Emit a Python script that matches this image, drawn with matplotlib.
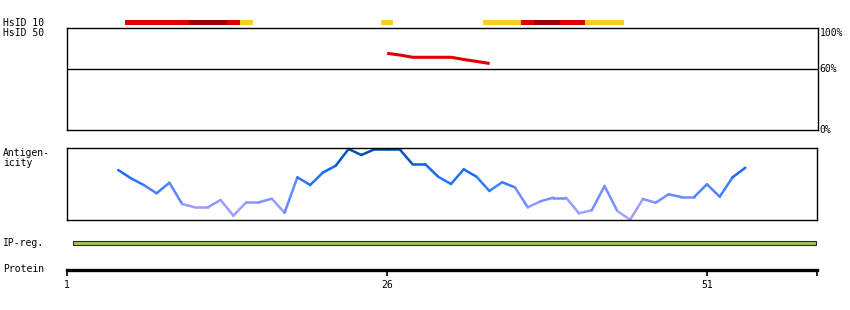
"""Protein feature overview: HsID tracks, antigenicity profile, IP region."""
import matplotlib
matplotlib.use("Agg")
import matplotlib.pyplot as plt
from matplotlib.collections import LineCollection
from matplotlib.colors import LinearSegmentedColormap
from matplotlib.patches import Rectangle
import numpy as np

W, H = 850, 310
X_MIN, X_MAX = 1, 59.6          # residue range covered by the panels

# ── HsID 10 identity track (residue -> level) ─────────────────────────
hsid10_residues = [6, 7, 8, 9, 10, 11, 12, 13, 14, 15, 26,
                   34, 35, 36, 37, 38, 39, 40, 41, 42, 43, 44]
hsid10_levels = (["mid"] * 5 + ["high"] * 3 +
                 ["mid", "low", "low", "low", "low", "low", "mid",
                  "high", "high", "mid", "mid", "low", "low", "low"])
LEVEL_COLORS = {"low": "#ffcc22", "mid": "#e00000", "high": "#990000"}

# ── HsID 50 identity (%) ──────────────────────────────────────────────
hsid50_residues = [26, 27, 28, 29, 30, 31, 32, 33, 34]
hsid50_pct = [75.4, 73.7, 71.5, 71.5, 71.5, 71.5, 69.3, 67.4, 65.4]

# ── Antigenicity (relative score, 0 = bottom, 1 = top of panel) ──────
antigen_residues = list(range(5, 55))
antigen_values = [0.694, 0.579, 0.486, 0.371, 0.518, 0.222, 0.176, 0.176,
                  0.278, 0.060, 0.246, 0.246, 0.296, 0.101, 0.593, 0.486,
                  0.660, 0.754, 0.986, 0.903, 0.980, 0.980, 0.980, 0.774,
                  0.774, 0.601, 0.500, 0.704, 0.601, 0.403, 0.524, 0.454,
                  0.176, 0.260, 0.310, 0.310, 0.093, 0.135, 0.472, 0.125,
                  0.004, 0.292, 0.240, 0.357, 0.319, 0.319, 0.496, 0.324,
                  0.593, 0.726]

# ── IP region and protein axis ───────────────────────────────────────
ip_start, ip_end = 2, 59
protein_ticks = [1, 26, 51]

FONT = dict(family="DejaVu Sans Mono", fontsize=7, color="black")

ANTIGEN_CMAP = LinearSegmentedColormap.from_list(
    "antigen",
    [(0.0, "#b4a4ff"), (0.2, "#9a9cff"), (0.35, "#5e8aff"),
     (0.55, "#2a74ff"), (0.75, "#0a64e8"), (0.9, "#0056bc"),
     (1.0, "#004c9c")])


def px_axes(fig, x0, y0, x1, y1):
    """Add axes using pixel coordinates measured from the top-left."""
    return fig.add_axes([x0 / W, 1 - y1 / H, (x1 - x0) / W, (y1 - y0) / H])


def label(fig, x, y, s, **kw):
    fig.text(x / W, 1 - y / H, s, va="center", ha="left", **FONT, **kw)


fig = plt.figure(figsize=(W / 100, H / 100), dpi=100)

# HsID 10 bar
ax10 = px_axes(fig, 67, 20, 817, 25)
ax10.bar(hsid10_residues, 1, width=1.0, bottom=0,
         color=[LEVEL_COLORS[l] for l in hsid10_levels], linewidth=0)
ax10.set_xlim(X_MIN, X_MAX)
ax10.set_ylim(0, 1)
ax10.axis("off")

# HsID 50 panel
ax50 = px_axes(fig, 67, 28.3, 817.5, 130)
ax50.plot(hsid50_residues, hsid50_pct, color="#e00000", linewidth=2.2,
          solid_capstyle="butt")
ax50.axhline(60, color="black", linewidth=1.0)
ax50.set_xlim(X_MIN, X_MAX)
ax50.set_ylim(0, 100)
ax50.set_xticks([])
ax50.set_yticks([])
for sp in ax50.spines.values():
    sp.set_linewidth(1.0)
ax50.text(1.003, 1.0, "100%", transform=ax50.transAxes, va="top", ha="left", **FONT)
ax50.text(1.003, 0.6, "60%", transform=ax50.transAxes, va="center", ha="left", **FONT)
ax50.text(1.003, 0.0, "0%", transform=ax50.transAxes, va="center", ha="left", **FONT)

# Antigenicity panel
axa = px_axes(fig, 67, 148, 817, 220)
pts = np.column_stack([antigen_residues, antigen_values])
segs = np.stack([pts[:-1], pts[1:]], axis=1)
seg_val = (pts[:-1, 1] + pts[1:, 1]) / 2
lc = LineCollection(segs, colors=ANTIGEN_CMAP(seg_val), linewidths=1.8,
                    capstyle="round", clip_on=False)
axa.add_collection(lc)
axa.set_xlim(X_MIN, X_MAX)
axa.set_ylim(0, 1)
axa.set_xticks([])
axa.set_yticks([])
for sp in axa.spines.values():
    sp.set_linewidth(1.0)

# IP region bar
axi = px_axes(fig, 67, 241, 817, 245)
axi.add_patch(Rectangle((ip_start - 0.5, 0), ip_end - ip_start + 1, 1,
                        facecolor="#a2c65a", edgecolor="#2a2a2a",
                        linewidth=0.8, clip_on=False))
axi.set_xlim(X_MIN, X_MAX)
axi.set_ylim(0, 1)
axi.axis("off")

# Protein axis
axp = px_axes(fig, 67, 262, 817, 269.5)
axp.set_xlim(X_MIN, X_MAX)
axp.set_yticks([])
for side in ("top", "left", "right"):
    axp.spines[side].set_visible(False)
axp.spines["bottom"].set_linewidth(2.4)
axp.set_xticks(protein_ticks)
axp.set_xticklabels([str(t) for t in protein_ticks], **FONT)
axp.set_xticks([X_MAX], minor=True)
axp.tick_params(axis="x", which="both", direction="out", length=4,
                width=1.2, pad=3.5)
axp.patch.set_visible(False)

# Track labels
label(fig, 3, 22.5, "HsID 10")
label(fig, 3, 32.7, "HsID 50")
label(fig, 3, 153.3, "Antigen-")
label(fig, 3, 163.3, "icity")
label(fig, 3, 243.5, "IP-reg.")
label(fig, 3, 269, "Protein")

fig.savefig("out.png", dpi=100)
plt.close(fig)
